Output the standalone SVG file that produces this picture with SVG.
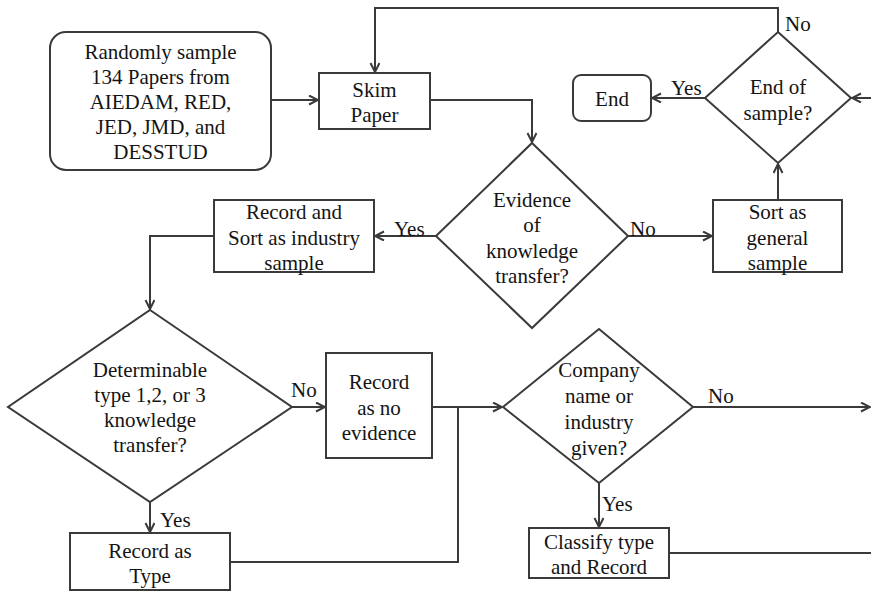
<svg xmlns="http://www.w3.org/2000/svg" width="871" height="591" viewBox="0 0 871 591" font-family="Liberation Serif, DejaVu Serif, serif" font-size="21">
<style>
.s{fill:#fff;stroke:#3a3a3a;stroke-width:2}
.c{fill:none;stroke:#3a3a3a;stroke-width:2}
.t{fill:#141414}
.m{text-anchor:middle}
</style>
<defs>
<marker id="a" markerUnits="userSpaceOnUse" markerWidth="12" markerHeight="12" refX="10" refY="5" orient="auto">
<path d="M1,0.5 L10,5 L1,9.5" fill="none" stroke="#3a3a3a" stroke-width="2"/>
</marker>
</defs>
<rect width="871" height="591" fill="#fff"/>
<g id="connectors">
<path class="c" d="M271,100 H318" marker-end="url(#a)"/>
<path class="c" d="M430,100 H532 V142" marker-end="url(#a)"/>
<path class="c" d="M436,236 H375" marker-end="url(#a)"/>
<path class="c" d="M628,236 H712" marker-end="url(#a)"/>
<path class="c" d="M778,200 V164" marker-end="url(#a)"/>
<path class="c" d="M705,98 H652" marker-end="url(#a)"/>
<path class="c" d="M778,32 V8 H375 V72" marker-end="url(#a)"/>
<path class="c" d="M871,98 H852" marker-end="url(#a)"/>
<path class="c" d="M214,236 H150 V309" marker-end="url(#a)"/>
<path class="c" d="M292,407 H325" marker-end="url(#a)"/>
<path class="c" d="M150,502 V532" marker-end="url(#a)"/>
<path class="c" d="M432,407 H502" marker-end="url(#a)"/>
<path class="c" d="M230,562 H458 V407"/>
<path class="c" d="M693,407 H870" marker-end="url(#a)"/>
<path class="c" d="M599,483 V527" marker-end="url(#a)"/>
<path class="c" d="M669,553 H871"/>
<text class="t" x="785" y="31">No</text>
<text class="t" x="671" y="95">Yes</text>
<text class="t" x="394" y="236">Yes</text>
<text class="t" x="630" y="236">No</text>
<text class="t" x="291" y="397">No</text>
<text class="t" x="160" y="527">Yes</text>
<text class="t" x="708" y="403">No</text>
<text class="t" x="602" y="511">Yes</text>
</g>
<g id="start" class="t m">
<rect class="s" x="50" y="32" width="221" height="138" rx="16"/>
<text x="160.5" y="59">Randomly sample</text>
<text x="160.5" y="84">134 Papers from</text>
<text x="160.5" y="109">AIEDAM, RED,</text>
<text x="160.5" y="134">JED, JMD, and</text>
<text x="160.5" y="159">DESSTUD</text>
</g>
<g id="skim" class="t m">
<rect class="s" x="319" y="73" width="111" height="56"/>
<text x="374.5" y="97">Skim</text>
<text x="374.5" y="122">Paper</text>
</g>
<g id="endofsample" class="t m">
<path class="s" d="M778,32 L851,98 L778,163 L705,98 Z"/>
<text x="778" y="94">End of</text>
<text x="778" y="120">sample?</text>
</g>
<g id="end" class="t m">
<rect class="s" x="573" y="75" width="78" height="46" rx="8"/>
<text x="612" y="106">End</text>
</g>
<g id="evidence" class="t m">
<path class="s" d="M532,143 L628,236 L532,328 L436,236 Z"/>
<text x="532" y="207">Evidence</text>
<text x="532" y="232">of</text>
<text x="532" y="258">knowledge</text>
<text x="532" y="283">transfer?</text>
</g>
<g id="industry" class="t m">
<rect class="s" x="214" y="200" width="160" height="72"/>
<text x="294" y="219">Record and</text>
<text x="294" y="245">Sort as industry</text>
<text x="294" y="270">sample</text>
</g>
<g id="general" class="t m">
<rect class="s" x="713" y="200" width="129" height="72"/>
<text x="777.5" y="219">Sort as</text>
<text x="777.5" y="245">general</text>
<text x="777.5" y="270">sample</text>
</g>
<g id="determinable" class="t m">
<path class="s" d="M150,310 L292,407 L150,502 L8,407 Z"/>
<text x="150" y="377">Determinable</text>
<text x="150" y="402">type 1,2, or 3</text>
<text x="150" y="427">knowledge</text>
<text x="150" y="452">transfer?</text>
</g>
<g id="noevidence" class="t m">
<rect class="s" x="326" y="353" width="106" height="105"/>
<text x="379" y="389">Record</text>
<text x="379" y="415">as no</text>
<text x="379" y="440">evidence</text>
</g>
<g id="recordtype" class="t m">
<rect class="s" x="70" y="533" width="160" height="57"/>
<text x="150" y="558">Record as</text>
<text x="150" y="583">Type</text>
</g>
<g id="company" class="t m">
<path class="s" d="M599,329 L693,407 L599,483 L503,407 Z"/>
<text x="599" y="377">Company</text>
<text x="599" y="403">name or</text>
<text x="599" y="429">industry</text>
<text x="599" y="455">given?</text>
</g>
<g id="classify" class="t m">
<rect class="s" x="529" y="528" width="140" height="50"/>
<text x="599" y="549">Classify type</text>
<text x="599" y="574">and Record</text>
</g>
</svg>
